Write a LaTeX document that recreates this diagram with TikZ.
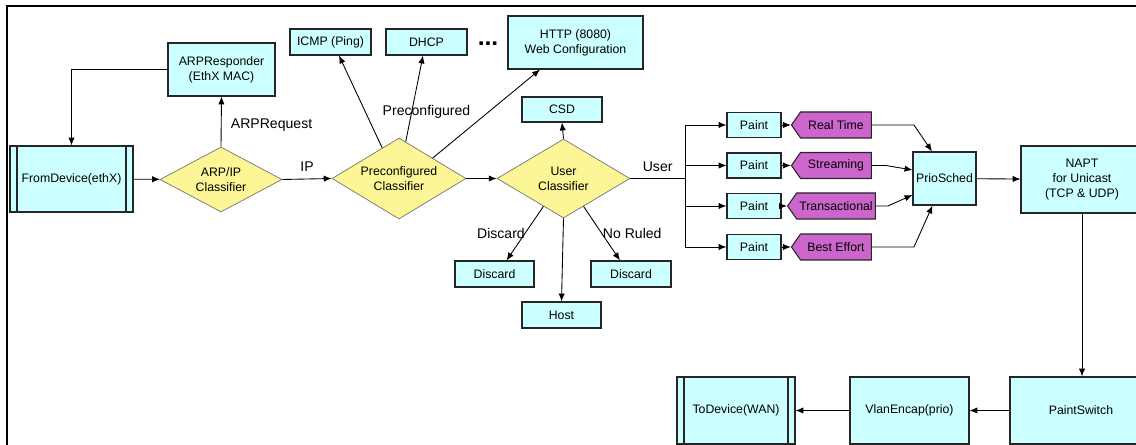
\documentclass[tikz,border=0pt]{standalone}
\usepackage{fontspec}
\setmainfont{Liberation Sans}
\usetikzlibrary{arrows.meta,shapes.geometric,shapes.symbols,calc}
\definecolor{boxcyan}{RGB}{204,255,255}
\definecolor{clsyellow}{RGB}{252,246,150}
\definecolor{tagpurple}{RGB}{204,102,204}
\newcommand{\boxtxt}{\fontsize{7}{8.4}\selectfont}
\newcommand{\lbltxt}{\fontsize{8}{9.6}\selectfont}
\tikzset{
  box/.style={draw=black!85,line width=0.6pt,fill=boxcyan,font=\boxtxt,align=center,inner sep=1pt},
  devbox/.style={box,path picture={
      \draw[line width=0.6pt] ([xshift=0.14cm]path picture bounding box.north west) -- ([xshift=0.14cm]path picture bounding box.south west);
      \draw[line width=0.6pt] ([xshift=-0.14cm]path picture bounding box.north east) -- ([xshift=-0.14cm]path picture bounding box.south east);}},
  cls/.style={diamond,aspect=1.7,draw=black!55,line width=0.4pt,fill=clsyellow,font=\boxtxt,align=center,inner sep=0pt},
  tag/.style={signal,signal to=west,signal pointer angle=110,draw=black!85,line width=0.6pt,fill=tagpurple,font=\boxtxt,inner sep=1.5pt,minimum width=1.6cm,minimum height=0.52cm},
  lbl/.style={font=\lbltxt,inner sep=1pt},
  flow/.style={-{Latex[length=4.5pt,width=3.6pt]},line width=0.5pt}
}
\begin{document}
\begin{tikzpicture}[x=0.02cm,y=-0.02cm]
\useasboundingbox (0,0) rectangle (1136,445);
\clip (0,0) rectangle (1136,445);
\draw[line width=1.2pt] (7,446) -- (7,6) -- (1137,6);

% ingress and ARP
\node[devbox,minimum width=2.46cm,minimum height=1.32cm] (fromdev) at (71.5,179) {FromDevice(ethX)};
\node[cls,minimum width=2.44cm,minimum height=1.3cm] (arpcls) at (221,179.5) {ARP/IP\\Classifier};
\node[box,minimum width=2.14cm,minimum height=1.06cm] (arpresp) at (221.5,69.5) {ARPResponder\\(EthX MAC)};
\draw[flow] (fromdev) -- (arpcls);
\draw[flow] (arpcls.north) -- (arpresp.south) node (arpreq) [lbl,midway,right,xshift=0.15cm,yshift=-0.08cm] {ARPRequest};
\draw[flow] (arpresp.west) -| (fromdev.north);

% preconfigured services
\node[cls,minimum width=2.68cm,minimum height=1.62cm] (precls) at (399,178.5) {Preconfigured\\Classifier};
\node[box,minimum width=1.62cm,minimum height=0.52cm] (icmp) at (330.5,42) {ICMP (Ping)};
\node[box,minimum width=1.62cm,minimum height=0.52cm] (dhcp) at (426.5,42) {DHCP};
\node[font=\bfseries\fontsize{14}{14}\selectfont,inner sep=0pt] (dots) at (488,44) {...};
\node[box,minimum width=2.7cm,minimum height=1.06cm] (http) at (575.5,42.5) {HTTP (8080)\\Web Configuration};
\node[lbl] (precfg) at (426.5,112) {Preconfigured};
\draw[flow] (arpcls.east) -- (precls.west) node (iplbl) [lbl,midway,above=0.1cm] {IP};
\draw[flow] ($(precls.north)!0.25!(precls.west)$) -- ([xshift=0.17cm]icmp.south);
\draw[flow] ($(precls.north)!0.1!(precls.east)$) -- ([xshift=-0.07cm]dhcp.south);
\draw[flow] ($(precls.north)!0.5!(precls.east)$) -- ([xshift=-0.71cm]http.south);

% user classifier
\node[cls,minimum width=2.66cm,minimum height=1.58cm] (usrcls) at (563.5,178.5) {User\\Classifier};
\node[box,minimum width=1.6cm,minimum height=0.5cm] (csd) at (562,109.5) {CSD};
\node[box,minimum width=1.58cm,minimum height=0.52cm] (discA) at (494.5,274) {Discard};
\node[box,minimum width=1.6cm,minimum height=0.52cm] (discB) at (631,274) {Discard};
\node[box,minimum width=1.58cm,minimum height=0.52cm] (host) at (561.5,315) {Host};
\draw[flow] (precls.east) -- (usrcls.west);
\draw[flow] (usrcls.north) -- (csd.south);
\draw[flow] ($(usrcls.south)!0.3!(usrcls.west)$) -- ([xshift=0.24cm]discA.north) node (dislbl) [lbl,midway,left,xshift=0.04cm] {Discard};
\draw[flow] ($(usrcls.south)!0.3!(usrcls.east)$) -- ([xshift=-0.22cm]discB.north) node (norlbl) [lbl,midway,right,xshift=-0.02cm] {No Ruled};
\draw[flow] (usrcls.south) -- (host.north);

% priority painting
\coordinate (fork) at (685,178.5);
\draw[line width=0.5pt] (usrcls.east) -- (fork) node (usrlbl) [lbl,midway,above=0.1cm] {User};
\foreach \i/\y/\t in {1/125/Real Time,2/165.5/Streaming,3/206/Transactional,4/247/Best Effort}{
  \node[box,minimum width=1.08cm,minimum height=0.5cm] (paint\i) at (754,\y) {Paint};
  \node[tag] (tag\i) at (836,\y) {\t};
  \draw[flow] (fork) |- (paint\i.west);
  \draw[flow] (paint\i.east) -- (tag\i.west);
}
\node[box,minimum width=1.26cm,minimum height=1.06cm] (prio) at (944.5,178.5) {PrioSched};
\draw[flow] (tag1.east) -- ++(42,0) -- ([xshift=-0.25cm]prio.north);
\draw[flow] (tag2.east) -- ++(14,0) -- ([yshift=0.17cm]prio.west);
\draw[flow] (tag3.east) -- ++(12,0) -- ([yshift=-0.33cm]prio.west);
\draw[flow] (tag4.east) -- ++(42,0) -- ([xshift=-0.24cm]prio.south);

% egress
\node[box,minimum width=2.44cm,minimum height=1.34cm] (napt) at (1082,179.5) {NAPT\\for Unicast\\(TCP \& UDP)};
\node[box,minimum width=2.84cm,minimum height=1.34cm] (pswitch) at (1081,410.5) {PaintSwitch};
\node[box,minimum width=2.38cm,minimum height=1.34cm] (vlan) at (909.5,410.5) {VlanEncap(prio)};
\node[devbox,minimum width=2.36cm,minimum height=1.34cm] (todev) at (736,410.5) {ToDevice(WAN)};
\draw[flow] (prio) -- (napt);
\draw[flow] (napt.south) -- (napt.south |- pswitch.north);
\draw[flow] (pswitch) -- (vlan);
\draw[flow] (vlan) -- (todev);
\end{tikzpicture}
\end{document}
